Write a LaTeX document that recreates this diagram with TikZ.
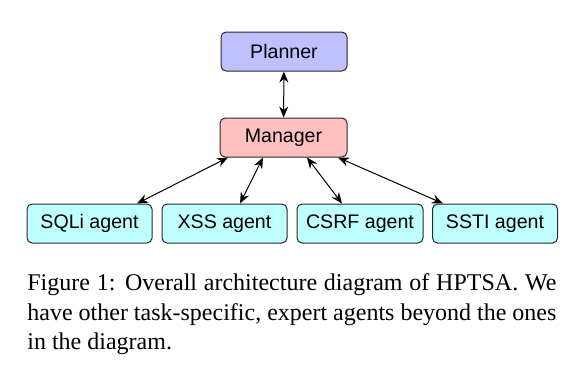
\documentclass[tikz,border=0pt]{standalone}
\usepackage{fontspec}
\setmainfont{Liberation Serif}
\setsansfont{Liberation Sans}
\usetikzlibrary{arrows.meta,calc}
\definecolor{plannerfill}{RGB}{192,192,255}
\definecolor{managerfill}{RGB}{255,192,192}
\definecolor{agentfill}{RGB}{192,255,255}
\definecolor{boxline}{RGB}{40,40,40}
\begin{document}
\begin{tikzpicture}[x=0.5pt,y=-0.5pt,
    box/.style={draw=boxline,line width=0.5pt,rounded corners=2.5pt,
      minimum width=62.5pt,minimum height=19.5pt,inner sep=0pt,
      font=\sffamily\fontsize{9.8}{11}\selectfont},
    link/.style={{Stealth[length=5.5pt,width=4.5pt]}-{Stealth[length=5.5pt,width=4.5pt]},line width=0.5pt}]
      \useasboundingbox (0,0) rectangle (582,381);
      \node[box,fill=plannerfill,minimum width=63pt] (planner) at (284,51.5) {Planner};
      \node[box,fill=managerfill,minimum width=63.5pt] (manager) at (283.5,137.5) {Manager};
      \node[box,fill=agentfill] (sqli) at (89.5,223.5) {SQLi agent};
      \node[box,fill=agentfill] (xss) at (224.5,223.5) {XSS agent};
      \node[box,fill=agentfill,minimum width=63pt] (csrf) at (360,223.5) {CSRF agent};
      \node[box,fill=agentfill] (sste) at (495,223.5) {SSTI agent};
      \node[anchor=north west,text width=264.5pt,align=justify,inner sep=0pt,
        font=\fontsize{12}{14.9}\selectfont] (caption) at (27,273)
        {Figure 1: Overall architecture diagram of HPTSA. We\linebreak
         have other task-specific, expert agents beyond the ones\linebreak
         in the diagram.};
      \draw[link] (planner) -- (manager);
      \draw[link] ($(manager.south)+(-55.5,0)$) -- ($(sqli.north)+(47.5,0)$);
      \draw[link] ($(manager.south)+(-20.5,0)$) -- ($(xss.north)+(15.5,0)$);
      \draw[link] ($(manager.south)+(23.5,0)$) -- ($(csrf.north)+(-18,0)$);
      \draw[link] ($(manager.south)+(54.5,0)$) -- ($(sste.north)+(-52,0)$);
    \end{tikzpicture}
\end{document}
